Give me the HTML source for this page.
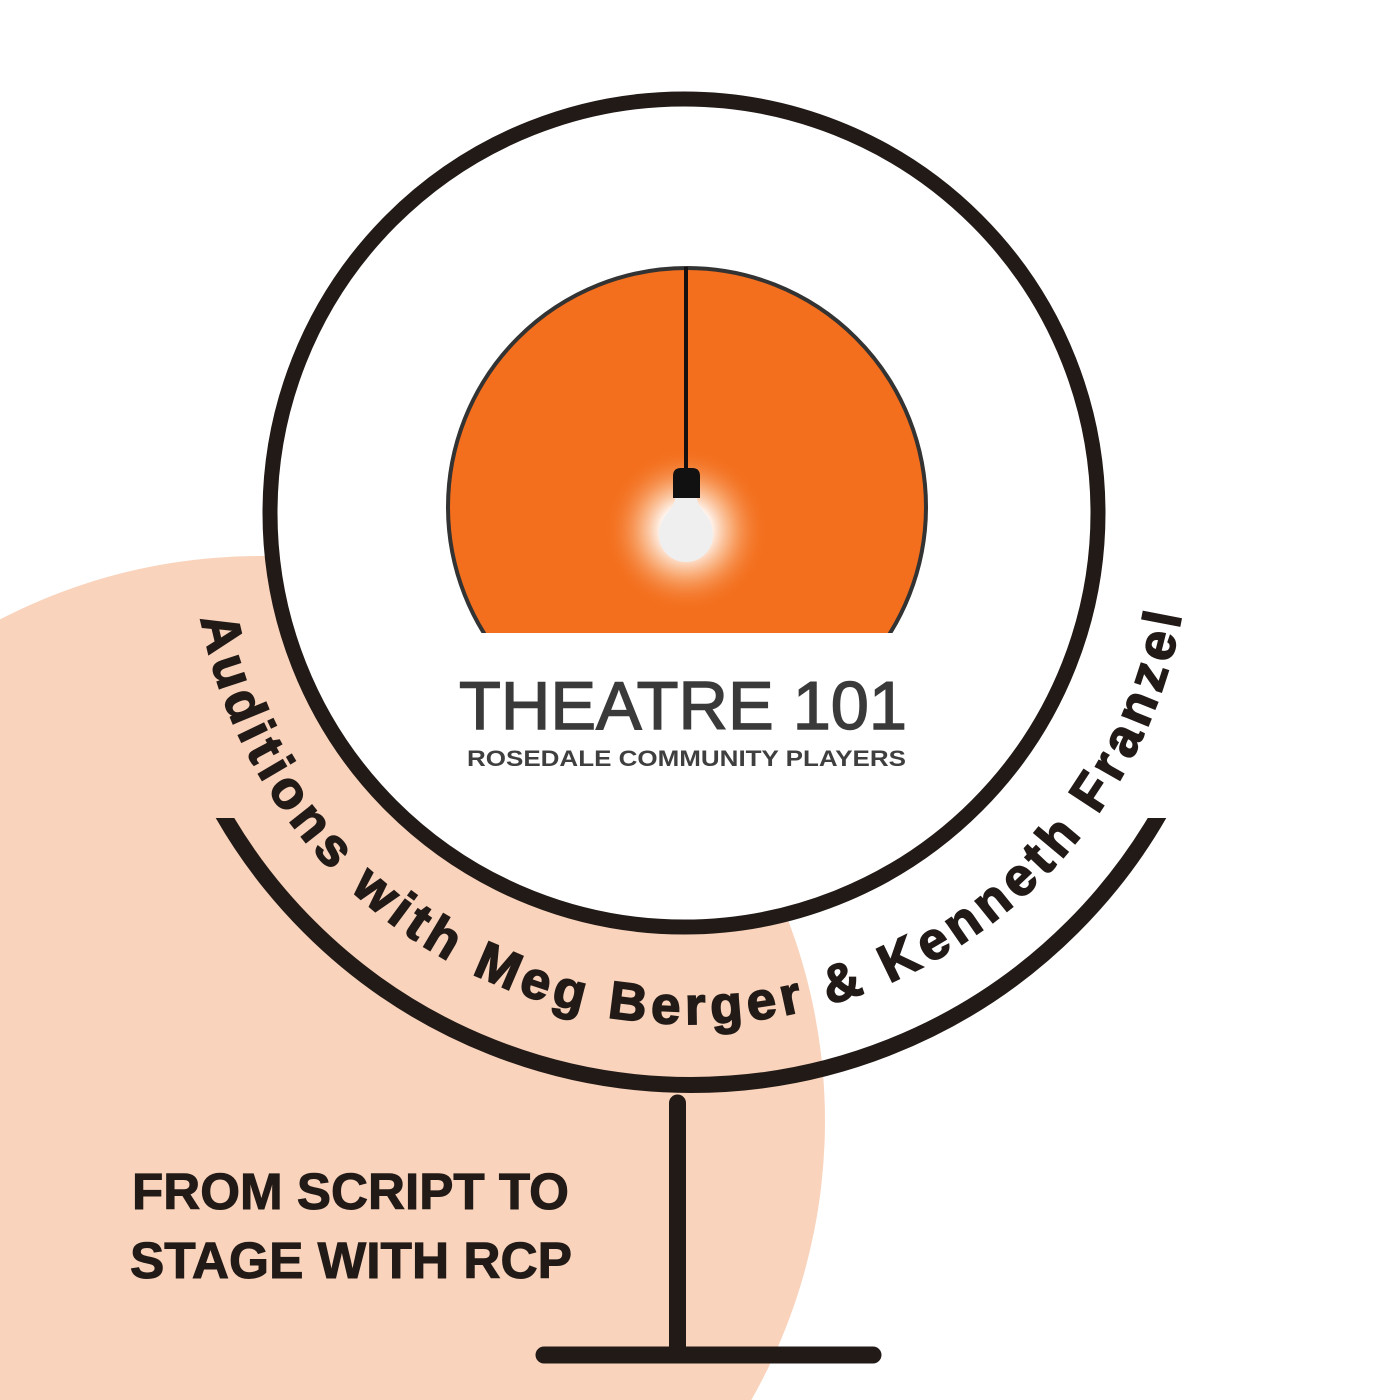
<!DOCTYPE html>
<html>
<head>
<meta charset="utf-8">
<style>
  html, body { margin:0; padding:0; background:#ffffff; width:1400px; height:1400px; overflow:hidden; }
  svg { display:block; }
</style>
</head>
<body>
<svg width="1400" height="1400" viewBox="0 0 1400 1400" xmlns="http://www.w3.org/2000/svg">
  <defs>
    <clipPath id="orangeClip">
      <rect x="0" y="0" width="1400" height="633"/>
    </clipPath>
    <clipPath id="arcClip">
      <rect x="0" y="818" width="1400" height="582"/>
    </clipPath>
    <radialGradient id="glow" cx="0.5" cy="0.5" r="0.5">
      <stop offset="0" stop-color="#ffffff" stop-opacity="1"/>
      <stop offset="0.3" stop-color="#ffffff" stop-opacity="0.95"/>
      <stop offset="0.55" stop-color="#fcc9a2" stop-opacity="0.7"/>
      <stop offset="1" stop-color="#f36f1d" stop-opacity="0"/>
    </radialGradient>
    <path id="textArc" d="M200.8,618.5 A499,499 0 0 0 1182.1,613.4" fill="none"/>
  </defs>

  <rect x="0" y="0" width="1400" height="1400" fill="#ffffff"/>

  <!-- peach circle (portion inside frame) -->
  <path d="M0,619.4 A565,565 0 0 1 751.3,1400 L0,1400 Z" fill="#f9d3bb"/>

  <!-- big circle -->
  <circle cx="684" cy="513" r="414" fill="#ffffff" stroke="#221a17" stroke-width="15"/>

  <!-- orange logo -->
  <g clip-path="url(#orangeClip)">
    <circle cx="687" cy="507" r="239" fill="#f36f1d" stroke="#333333" stroke-width="4"/>
  </g>
  <!-- glow -->
  <circle cx="686" cy="530" r="82" fill="url(#glow)"/>
  <!-- cord -->
  <line x1="686" y1="267" x2="686" y2="472" stroke="#141010" stroke-width="4"/>
  <!-- socket -->
  <path d="M673,498 L673,476 Q673,468 681,468 L692,468 Q700,468 700,476 L700,498 Z" fill="#111111"/>
  <!-- bulb -->
  <path d="M675,498 C675,510 659,515 659,535 A27,27 0 0 0 713,535 C713,515 697,510 697,498 Z" fill="#efefef"/>

  <!-- logo text -->
  <text x="459" y="729" font-family="Liberation Sans, Arial, sans-serif" font-size="68" fill="#3a3a3a" stroke="#3a3a3a" stroke-width="1.4" textLength="448" lengthAdjust="spacingAndGlyphs">THEATRE 101</text>
  <text x="467" y="766" font-family="Liberation Sans, Arial, sans-serif" font-size="22" font-weight="bold" fill="#3f3f3f" textLength="439" lengthAdjust="spacingAndGlyphs">ROSEDALE COMMUNITY PLAYERS</text>

  <!-- lower arc -->
  <g clip-path="url(#arcClip)">
    <circle cx="691" cy="545" r="540" fill="none" stroke="#221a17" stroke-width="16"/>
  </g>

  <!-- stem & base -->
  <line x1="677.5" y1="1103" x2="677.5" y2="1355" stroke="#221a17" stroke-width="17" stroke-linecap="round"/>
  <line x1="544" y1="1355" x2="873" y2="1355" stroke="#221a17" stroke-width="17" stroke-linecap="round"/>

  <!-- curved text -->
  <text font-family="Liberation Sans, Arial, sans-serif" font-size="53" font-weight="bold" fill="#221a17" stroke="#221a17" stroke-width="1.6" letter-spacing="5.5">
    <textPath href="#textArc" startOffset="0">Auditions with Meg Berger &amp; Kenneth Franzel</textPath>
  </text>

  <!-- bottom text -->
  <text x="132" y="1209" font-family="Liberation Sans, Arial, sans-serif" font-size="51" font-weight="bold" fill="#221a17" stroke="#221a17" stroke-width="1" textLength="437" lengthAdjust="spacingAndGlyphs">FROM SCRIPT TO</text>
  <text x="130" y="1278" font-family="Liberation Sans, Arial, sans-serif" font-size="51" font-weight="bold" fill="#221a17" stroke="#221a17" stroke-width="1" textLength="442" lengthAdjust="spacingAndGlyphs">STAGE WITH RCP</text>
</svg>
</body>
</html>
